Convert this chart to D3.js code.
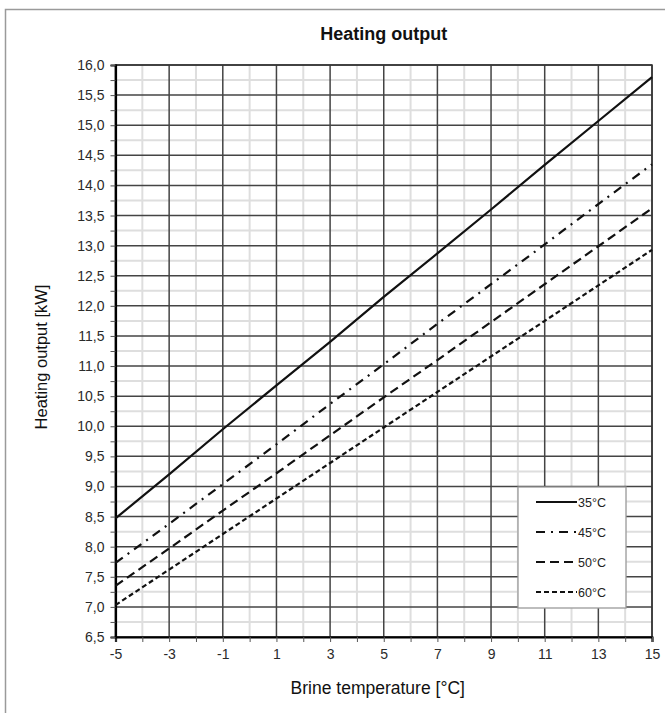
<!DOCTYPE html>
<html>
<head>
<meta charset="utf-8">
<script src="https://cdn.jsdelivr.net/npm/d3@7"></script>
<style>
  body { margin: 0; background: #fff; }
  text { font-family: "Liberation Sans", Arial, sans-serif; }
</style>
</head>
<body>
<div id="chart"></div>
<script>
// brine temperature readings (°C)
const brineTemps = [-5, -3, -1, 1, 3, 5, 7, 9, 11, 13, 15];
// heating output (kW) per flow temperature
const out35 = [8.47, 9.20, 9.95, 10.68, 11.40, 12.15, 12.87, 13.60, 14.34, 15.07, 15.80];
const out45 = [7.73, 8.38, 9.04, 9.70, 10.37, 11.03, 11.70, 12.36, 13.02, 13.69, 14.35];
const out50 = [7.35, 7.97, 8.60, 9.22, 9.85, 10.48, 11.10, 11.73, 12.36, 12.99, 13.62];
const out60 = [7.03, 7.62, 8.21, 8.80, 9.39, 9.98, 10.57, 11.16, 11.75, 12.34, 12.93];
const seriesNames = ["35°C", "45°C", "50°C", "60°C"];
const dashes = [null, "9,6,2,6", "9,5", "5,3"];

const xTicks = d3.range(-5, 16, 1);
const yTicks = d3.range(6.5, 16.01, 0.25);

const W = 665, H = 713;
const margin = { top: 65, right: 13, bottom: 76, left: 115.5 };
const width = W - margin.left - margin.right;
const height = H - margin.top - margin.bottom;

const svgRoot = d3.select("#chart").append("svg").attr("width", W).attr("height", H);

// outer frame: top and left only
svgRoot.append("path")
  .attr("d", `M5.5,${H} L5.5,9.5 L${W},9.5`)
  .attr("fill", "none").attr("stroke", "#9a9a9a").attr("stroke-width", 1.5);

const svg = svgRoot.append("g").attr("transform", `translate(${margin.left},${margin.top})`);

const x = d3.scaleLinear().domain([-5, 15]).range([0, width]);
const y = d3.scaleLinear().domain([6.5, 16]).range([height, 0]);

const isMajorX = (v) => Math.abs((v + 5) % 2) < 1e-6;
const isMajorY = (v) => Math.abs((v * 2) - Math.round(v * 2)) < 1e-6;
const comma = (v) => d3.format(".1f")(v).replace(".", ",");

// minor grid
svg.append("g").selectAll("line")
  .data(xTicks.filter((d) => !isMajorX(d)))
  .join("line")
  .attr("x1", (d) => x(d)).attr("x2", (d) => x(d))
  .attr("y1", 0).attr("y2", height)
  .attr("stroke", "#dedede").attr("stroke-width", 2);
svg.append("g").selectAll("line")
  .data(yTicks.filter((d) => !isMajorY(d)))
  .join("line")
  .attr("y1", (d) => y(d)).attr("y2", (d) => y(d))
  .attr("x1", 0).attr("x2", width)
  .attr("stroke", "#dedede").attr("stroke-width", 2);

// major grid
svg.append("g").selectAll("line")
  .data(xTicks.filter(isMajorX))
  .join("line")
  .attr("x1", (d) => x(d)).attr("x2", (d) => x(d))
  .attr("y1", 0).attr("y2", height)
  .attr("stroke", "#444").attr("stroke-width", 1.5);
svg.append("g").selectAll("line")
  .data(yTicks.filter(isMajorY))
  .join("line")
  .attr("y1", (d) => y(d)).attr("y2", (d) => y(d))
  .attr("x1", 0).attr("x2", width)
  .attr("stroke", "#444").attr("stroke-width", 1.5);

// plot frame
svg.append("rect")
  .attr("width", width).attr("height", height)
  .attr("fill", "none").attr("stroke", "#333").attr("stroke-width", 1.5);

// axes
const xAxis = d3.axisBottom(x).tickValues(xTicks).tickSize(5).tickPadding(7)
  .tickFormat((d) => (isMajorX(d) ? d : ""));
const yAxis = d3.axisLeft(y).tickValues(yTicks).tickSize(5).tickPadding(6)
  .tickFormat((d) => (isMajorY(d) ? comma(d) : ""));

const gx = svg.append("g").attr("transform", `translate(0,${height})`).call(xAxis);
const gy = svg.append("g").call(yAxis);
[gx, gy].forEach((g) => {
  g.select(".domain").attr("stroke", "#000").attr("stroke-width", 2.2);
  g.selectAll(".tick line").attr("stroke", "#555").attr("stroke-width", 1);
  g.selectAll("text").attr("font-size", 14).attr("fill", "#2a2a2a")
    .attr("font-family", "'Liberation Sans', Arial, sans-serif");
});

// series lines
const allSeries = [out35, out45, out50, out60];
const line = d3.line().x((d) => x(d[0])).y((d) => y(d[1]));
allSeries.forEach((vals, i) => {
  svg.append("path")
    .datum(brineTemps.map((t, j) => [t, vals[j]]))
    .attr("d", line)
    .attr("fill", "none").attr("stroke", "#111").attr("stroke-width", 2.2)
    .attr("stroke-dasharray", dashes[i]);
});

// legend
const legend = svgRoot.append("g").attr("transform", "translate(518,487)");
legend.append("rect")
  .attr("width", 108).attr("height", 121)
  .attr("fill", "#fff").attr("stroke", "#9a9a9a").attr("stroke-width", 1.3);
seriesNames.forEach((name, i) => {
  const ly = 15 + i * 30;
  legend.append("line")
    .attr("x1", 18).attr("x2", 59).attr("y1", ly).attr("y2", ly)
    .attr("stroke", "#111").attr("stroke-width", 2.2)
    .attr("stroke-dasharray", dashes[i]);
  legend.append("text")
    .attr("x", 60).attr("y", ly + 4.5)
    .attr("font-size", 12.5).attr("fill", "#222")
    .text(name);
});

// titles
svgRoot.append("text")
  .attr("x", margin.left + width / 2).attr("y", 40)
  .attr("text-anchor", "middle").attr("font-size", 18).attr("font-weight", "bold")
  .attr("fill", "#111")
  .text("Heating output");

svgRoot.append("text")
  .attr("x", margin.left + width / 2 - 6).attr("y", 694)
  .attr("text-anchor", "middle").attr("font-size", 17.5).attr("fill", "#111")
  .text("Brine temperature [°C]");

svgRoot.append("text")
  .attr("transform", `translate(47,${margin.top + height / 2 + 6}) rotate(-90)`)
  .attr("text-anchor", "middle").attr("font-size", 16.5).attr("fill", "#111")
  .text("Heating output [kW]");
</script>
</body>
</html>
